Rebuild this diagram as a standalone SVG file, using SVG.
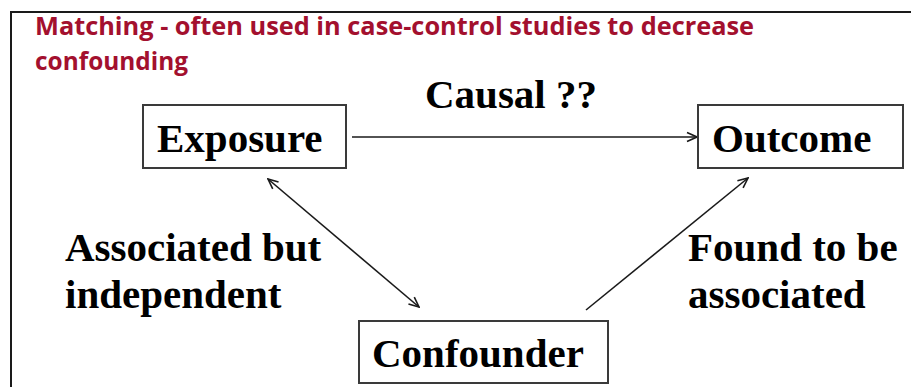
<svg xmlns="http://www.w3.org/2000/svg" width="911" height="387" viewBox="0 0 911 387">
  <style>
    .frame { fill: #ffffff; stroke: #1a1a1a; stroke-width: 2; }
    .box { fill: #ffffff; stroke: #3a3a3a; stroke-width: 2; }
    .title { font-family: "Open Sans", "Liberation Sans", sans-serif; font-weight: 700; font-size: 25px; fill: #A3102E; }
    .lbl { font-family: "Liberation Serif", "Times New Roman", serif; font-weight: bold; font-size: 41px; fill: #000000; }
    .conn { stroke: #1a1a1a; stroke-width: 1.6; fill: none; }
  </style>
  <defs>
    <marker id="arrow" viewBox="0 0 12 12" refX="11" refY="6" markerWidth="12" markerHeight="12" markerUnits="userSpaceOnUse" orient="auto-start-reverse">
      <path d="M1,1.5 L11,6 L1,10.5" fill="none" stroke="#1a1a1a" stroke-width="1.6"/>
    </marker>
  </defs>
  <rect width="911" height="387" fill="#ffffff"/>
  <rect class="frame" x="11" y="12" width="910" height="390"/>
  <g id="title">
    <text class="title" x="35" y="35" textLength="719" lengthAdjust="spacingAndGlyphs">Matching - often used in case-control studies to decrease</text>
    <text class="title" x="35" y="70" textLength="153" lengthAdjust="spacingAndGlyphs">confounding</text>
  </g>
  <g id="connectors">
    <line class="conn" x1="352" y1="137" x2="697" y2="137" marker-end="url(#arrow)"/>
    <line class="conn" x1="268" y1="179" x2="419" y2="307" marker-start="url(#arrow)" marker-end="url(#arrow)"/>
    <line class="conn" x1="586" y1="310" x2="748" y2="178" marker-end="url(#arrow)"/>
  </g>
  <g id="label-causal">
    <text class="lbl" x="425" y="108">Causal ??</text>
  </g>
  <g id="label-associated-independent">
    <text class="lbl" x="65" y="261">Associated but</text>
    <text class="lbl" x="65" y="308">independent</text>
  </g>
  <g id="label-found-associated">
    <text class="lbl" x="688" y="261">Found to be</text>
    <text class="lbl" x="688" y="308">associated</text>
  </g>
  <g id="node-exposure">
    <rect class="box" x="143" y="105" width="203" height="63"/>
    <text class="lbl" x="157" y="152">Exposure</text>
  </g>
  <g id="node-outcome">
    <rect class="box" x="698" y="105" width="205" height="63"/>
    <text class="lbl" x="712" y="152">Outcome</text>
  </g>
  <g id="node-confounder">
    <rect class="box" x="359" y="321" width="249" height="62"/>
    <text class="lbl" x="372" y="367">Confounder</text>
  </g>
</svg>
